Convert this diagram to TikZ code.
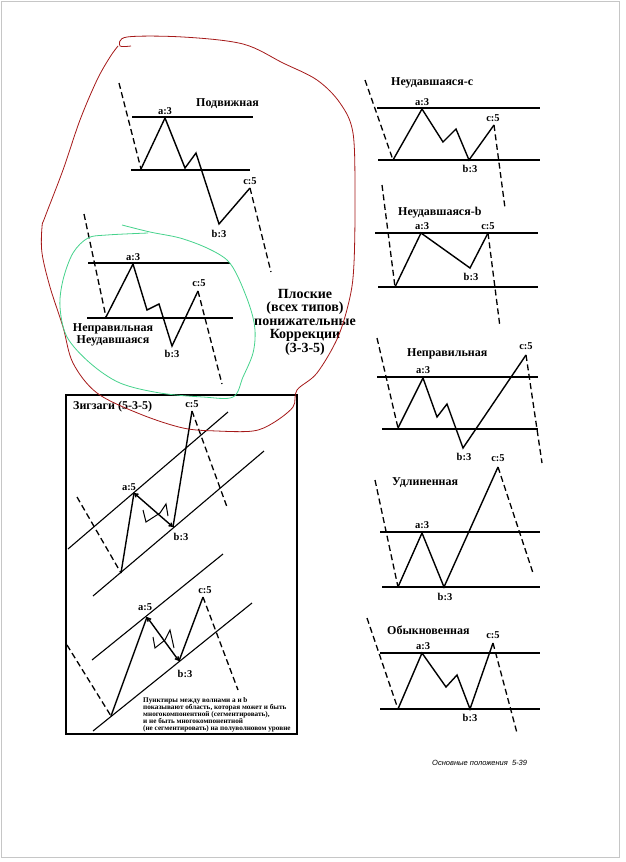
\documentclass[tikz,border=0pt]{standalone}
\usepackage{fontspec}
\setmainfont{Liberation Serif}
\newfontfamily\footfont{Liberation Sans}
\usetikzlibrary{arrows.meta}
\definecolor{penred}{RGB}{165,25,25}
\definecolor{pengreen}{RGB}{70,210,140}
\begin{document}
\begin{tikzpicture}[x=1pt, y=-1pt, >={Straight Barb[length=3pt, width=4pt]},
  wave/.style={line width=1.4pt, line join=miter},
  bound/.style={line width=1.1pt},
  trend/.style={line width=1.3pt, dash pattern=on 6pt off 3.5pt},
  subwave/.style={line width=1pt},
  lbl/.style={font=\fontsize{10.5}{10.5}\selectfont\bfseries, inner sep=0pt},
  ttl/.style={font=\fontsize{12}{12}\selectfont\bfseries, inner sep=0pt, anchor=west}]

  % --- 0. page ---
  \useasboundingbox (0,0) rectangle (626,862);
  \draw[gray!45, line width=1pt] (1,1) rectangle (619,857);

  % --- 1. Подвижная ---
  \node[ttl] (tmove) at (196,104) {Подвижная};
  \draw[bound] (132,117) -- (253,117);
  \draw[bound] (131,170) -- (250,170);
  \draw[trend] (119,83) -- (141,169);
  \draw[wave] (141,169) -- (165,118) -- (185,168) -- (196,153) -- (219,224) -- (250,188);
  \draw[trend] (250,188) -- (271,272);
  \node[lbl] (mva) at (165,111) {a:3};
  \node[lbl] (mvb) at (219,234) {b:3};
  \node[lbl] (mvc) at (250,181) {c:5};

  % --- 2. Неправильная Неудавшаяся ---
  \draw[trend] (84,214) -- (106,317);
  \draw[bound] (88,263) -- (230,263);
  \draw[bound] (87,318) -- (233,318);
  \draw[wave] (106,317) -- (133,264) -- (147,310) -- (159,304) -- (172,346) -- (198,291);
  \draw[trend] (198,291) -- (222,384);
  \node[lbl] (ira) at (133,257) {a:3};
  \node[lbl] (irb) at (172,354) {b:3};
  \node[lbl] (irc) at (199,283) {c:5};
  \node[ttl, anchor=center] (tirr) at (113,329) {Неправильная};
  \node[ttl, anchor=center] (tfail) at (113,341) {Неудавшаяся};

  % --- 3. общий заголовок ---
  \node[align=center, inner sep=0pt, font=\fontsize{14}{13.5}\selectfont\bfseries] (tflat) at (305,322)
    {Плоские\\(всех типов)\\понижательные\\Коррекции\\(3-3-5)};

  % --- 4. Зигзаги ---
  \draw[line width=1.1pt] (66,395) rectangle (297,734);
  \node[ttl] (tzig) at (73,407) {Зигзаги (5-3-5)};
  % верхний
  \draw[bound] (68,549) -- (228,412);
  \draw[bound] (93,596) -- (264,451);
  \draw[trend] (77,497) -- (121,573);
  \draw[wave] (121,573) -- (134,493);
  \draw[wave, <->] (134,493) -- (173,527);
  \draw[wave] (173,527) -- (192,411);
  \draw[trend] (192,411) -- (227,507);
  \draw[subwave] (143,510) -- (146,522) -- (160,513) -- (166,504) -- (168,516);
  \node[lbl] (zua) at (129,487) {a:5};
  \node[lbl] (zub) at (181,537) {b:3};
  \node[lbl] (zuc) at (192,404) {c:5};
  % нижний
  \draw[bound] (92,660) -- (223,554);
  \draw[bound] (93,731) -- (252,603);
  \draw[trend] (67,645) -- (111,716);
  \draw[wave] (111,716) -- (147,617);
  \draw[wave, <->] (147,617) -- (179,661);
  \draw[wave] (179,661) -- (203,597);
  \draw[trend] (203,597) -- (238,690);
  \draw[subwave] (153,637) -- (155,648) -- (165,640) -- (170,630) -- (174,648);
  \node[lbl] (zla) at (145,607) {a:5};
  \node[lbl] (zlb) at (185,674) {b:3};
  \node[lbl] (zlc) at (205,590) {c:5};
  \node[anchor=north west, align=left, inner sep=0pt,
        font=\fontsize{7.2}{7}\selectfont\bfseries] (znote) at (143,697)
    {Пунктиры между волнами а и b\\показывают область, которая может и быть\\
     многокомпонентной (сегментировать),\\и не быть многокомпонентной\\
     (не сегментировать) на полуволновом уровне};

  % --- 5. Неудавшаяся-с ---
  \node[ttl] (tfc) at (391,83) {Неудавшаяся-с};
  \draw[trend] (365,80) -- (393,160);
  \draw[bound] (377,108) -- (540,108);
  \draw[bound] (378,160) -- (540,160);
  \draw[wave] (393,160) -- (422,109) -- (443,142) -- (456,129) -- (469,160) -- (494,125);
  \draw[trend] (494,125) -- (505,208);
  \node[lbl] (fca) at (422,102) {a:3};
  \node[lbl] (fcb) at (470,169) {b:3};
  \node[lbl] (fcc) at (493,118) {c:5};

  % --- 6. Неудавшаяся-b ---
  \node[ttl] (tfb) at (398,213) {Неудавшаяся-b};
  \draw[trend] (382,185) -- (395,287);
  \draw[bound] (375,233) -- (538,233);
  \draw[bound] (378,287) -- (538,287);
  \draw[wave] (395,287) -- (421,233) -- (470,268) -- (488,233);
  \draw[trend] (488,233) -- (500,327);
  \node[lbl] (fba) at (422,226) {a:3};
  \node[lbl] (fbb) at (471,277) {b:3};
  \node[lbl] (fbc) at (488,226) {c:5};

  % --- 7. Неправильная ---
  \node[ttl] (tir) at (407,354) {Неправильная};
  \draw[trend] (377,338) -- (398,428);
  \draw[bound] (377,377) -- (538,377);
  \draw[bound] (382,429) -- (538,429);
  \draw[wave] (398,428) -- (423,378) -- (437,417) -- (447,404) -- (463,448) -- (526,355);
  \draw[trend] (526,355) -- (542,463);
  \node[lbl] (ia) at (423,370) {a:3};
  \node[lbl] (ib) at (464,457) {b:3};
  \node[lbl] (ic) at (526,346) {c:5};

  % --- 8. Удлиненная ---
  \node[ttl] (text) at (392,483) {Удлиненная};
  \draw[trend] (375,480) -- (398,587);
  \draw[bound] (380,532) -- (540,532);
  \draw[bound] (382,587) -- (540,587);
  \draw[wave] (398,587) -- (422,533) -- (444,587) -- (498,467);
  \draw[trend] (498,467) -- (533,573);
  \node[lbl] (ea) at (422,525) {a:3};
  \node[lbl] (eb) at (445,597) {b:3};
  \node[lbl] (ec) at (498,458) {c:5};

  % --- 9. Обыкновенная ---
  \node[ttl] (treg) at (387,630) {Обыкновенная};
  \draw[trend] (367,618) -- (398,709);
  \draw[bound] (380,653) -- (540,653);
  \draw[bound] (380,709) -- (540,709);
  \draw[wave] (398,709) -- (422,653) -- (446,687) -- (457,675) -- (470,709) -- (493,643);
  \draw[trend] (493,643) -- (517,733);
  \node[lbl] (ra) at (423,646) {a:3};
  \node[lbl] (rb) at (470,718) {b:3};
  \node[lbl] (rc) at (493,635) {c:5};

  % --- 10. пометки от руки ---
  \draw[penred, line width=0.8pt] plot[smooth, tension=0.55] coordinates {
    (131,46) (120,46) (127,37) (183,37) (243,44) (283,63) (317,80) (340,103) (353,133)
    (355,197) (354,263) (350,297) (338,337) (317,373) (297,390) (293,407) (273,423)
    (253,431) (217,431) (183,428) (140,414) (97,393) (73,363) (63,327) (50,287)
    (42,253) (42,227) (45,217) (63,170) (80,120) (97,80) (110,57) (118,46)};
  \draw[pengreen, line width=0.8pt] plot[smooth, tension=0.55] coordinates {
    (122,225) (150,232) (180,238) (207,248) (227,260) (238,277) (250,307) (255,330)
    (253,353) (243,377) (233,397) (203,397) (160,393) (120,383) (90,363) (67,337)
    (60,307) (63,280) (73,253) (88,238) (107,235) (148,233)};

  % --- 11. колонтитул ---
  \node[anchor=west, inner sep=0pt, font=\footfont\itshape\fontsize{7.5}{7.5}\selectfont] (tfoot) at (432,763)
    {Основные положения\ \ 5-39};

\end{tikzpicture}
\end{document}
